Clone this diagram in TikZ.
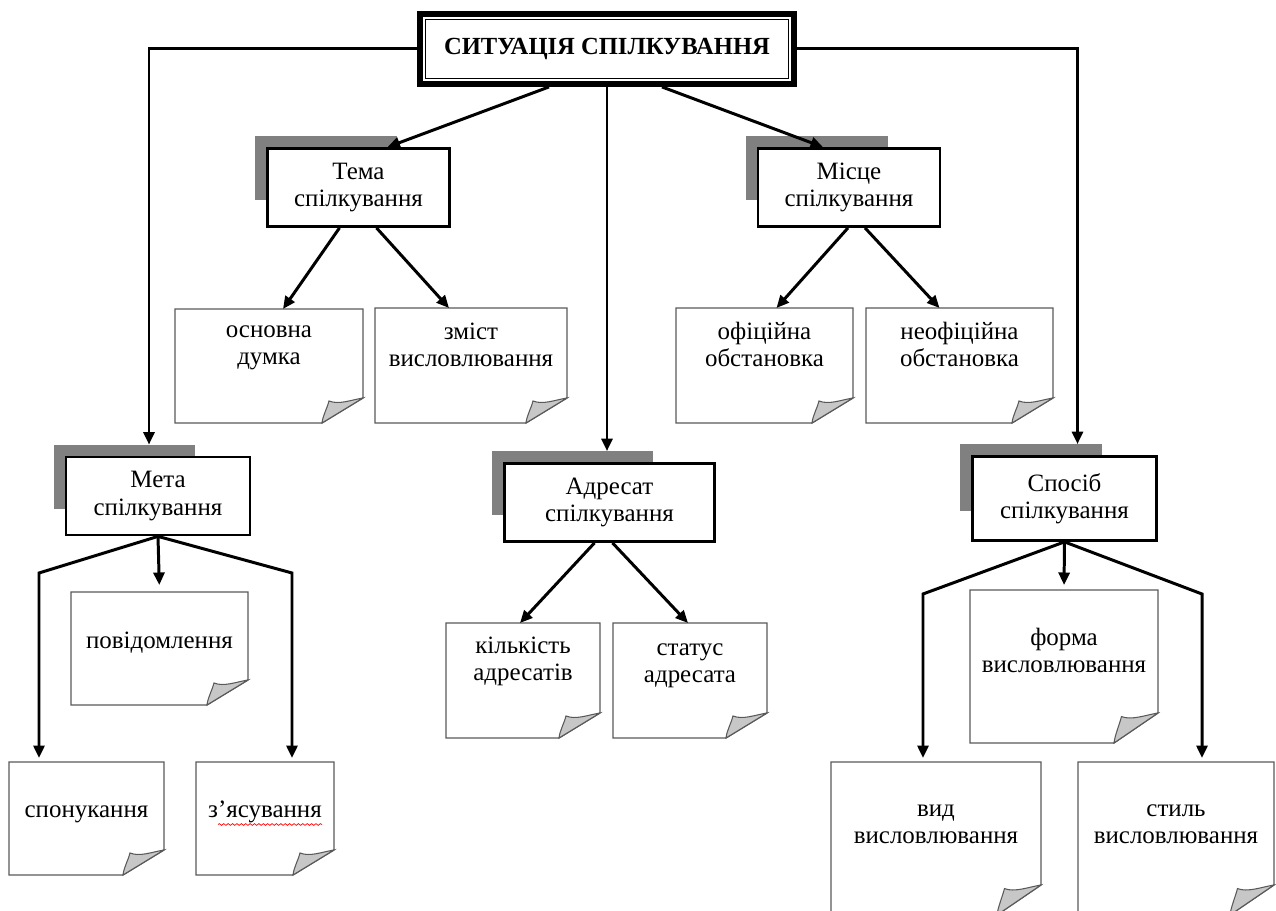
\documentclass[tikz,border=0pt]{standalone}
\usepackage{fontspec}
\setmainfont{Liberation Serif}
\usetikzlibrary{arrows.meta,backgrounds,calc,decorations.pathmorphing}
\newcommand\pushup[1]{\rule[-#1]{0pt}{0pt}}
\tikzset{
	headbox/.style = {draw, line width=2.8pt, fill=white, minimum width=7.5cm, minimum height=1.42cm,
		font=\bfseries\fontsize{14}{16}\selectfont},
	cat/.style = {draw, line width=1.6pt, fill=white, align=center, minimum height=1.56cm,
		font=\fontsize{14.2}{15.5}\selectfont},
	catshadow/.style = {fill=black!50, anchor=north west, minimum height=1.28cm, inner sep=0pt},
	note/.style = {align=center, inner sep=0pt, outer sep=0pt, font=\fontsize{14.2}{15.5}\selectfont,
		execute at begin node=\strut},
	noteline/.style = {draw=black!65, line width=0.8pt},
	flap/.style = {draw=black!65, fill=black!22, line width=0.6pt},
	conn/.style = {line width=1.7pt, -{Triangle[length=0.25cm,width=0.22cm]}}
}

\begin{document}
\begin{tikzpicture}[x=0.02cm, y=-0.02cm]
\useasboundingbox (0,0) rectangle (1276,911);
\clip (0,0) rectangle (1276,911);

% NODES
% main box
\node[headbox] (sit) at (607,49) {СИТУАЦІЯ СПІЛКУВАННЯ};
\draw[double, double distance=1.6pt, line width=0.5pt]
	([shift={(7,7)}]sit.north west) rectangle ([shift={(-7,-7)}]sit.south east);
% categories
\node[cat, minimum width=3.64cm] (tema) at (358.5,187.5) {Тема\\спілкування};
\node[cat, minimum width=3.64cm] (misce) at (849,187.5) {Місце\\спілкування};
\node[cat, minimum width=3.68cm] (meta) at (158,496) {Мета\\спілкування};
\node[cat, minimum width=4.2cm] (adresat) at (609.5,502.5) {Адресат\\спілкування};
\node[cat, minimum width=3.68cm, minimum height=1.68cm] (sposib) at (1064.5,498.5) {Спосіб\\спілкування};
\begin{scope}[on background layer]
\node[catshadow, minimum width=2.84cm] (tema-sh) at ([shift={(-11,-11)}]tema.north west) {};
\node[catshadow, minimum width=2.84cm] (misce-sh) at ([shift={(-11,-11)}]misce.north west) {};
\node[catshadow, minimum width=2.82cm] (meta-sh) at ([shift={(-11,-11)}]meta.north west) {};
\node[catshadow, minimum width=3.22cm] (adresat-sh) at ([shift={(-11,-11)}]adresat.north west) {};
\node[catshadow, minimum width=2.84cm, minimum height=1.34cm] (sposib-sh) at ([shift={(-11,-11)}]sposib.north west) {};
\end{scope}
% notes
\node[note, minimum width=3.76cm, minimum height=2.28cm] (osn) at (269,366) {основна\\думка\pushup{0.84cm}};
\node[note, minimum width=3.84cm, minimum height=2.3cm] (zmist) at (471,365.5) {зміст\\висловлювання\pushup{0.84cm}};
\node[note, minimum width=3.54cm, minimum height=2.3cm] (ofic) at (764.5,365.5) {офіційна\\обстановка\pushup{0.84cm}};
\node[note, minimum width=3.74cm, minimum height=2.3cm] (neofic) at (959.5,365.5) {неофіційна\\обстановка\pushup{0.84cm}};
\node[note, minimum width=3.54cm, minimum height=2.26cm] (povid) at (159.5,648.5) {повідомлення\pushup{0.4cm}};
\node[note, minimum width=3.1cm, minimum height=2.26cm] (spon) at (86.5,818.5) {спонукання\pushup{0.44cm}};
\node[note, minimum width=2.76cm, minimum height=2.26cm] (zyas) at (265,818.5) {з’ясування\pushup{0.44cm}};
\node[note, minimum width=3.08cm, minimum height=2.3cm] (kilk) at (523,680.5) {кількість\\адресатів\pushup{0.86cm}};
\node[note, minimum width=3.08cm, minimum height=2.3cm] (stat) at (690,680.5) {статус\\адресата\pushup{0.7cm}};
\node[note, minimum width=3.76cm, minimum height=3.06cm] (forma) at (1064,666.5) {форма\\висловлювання\pushup{0.66cm}};
\node[note, minimum width=4.2cm, minimum height=3.06cm] (vyd) at (936,838.5) {вид\\висловлювання\pushup{0.58cm}};
\node[note, minimum width=3.92cm, minimum height=3.06cm] (stil) at (1176,838.5) {стиль\\висловлювання\pushup{0.58cm}};
\foreach \n/\fw/\fh in {osn/41/25, zmist/41/25, ofic/41/25, neofic/41/25, povid/41/25, spon/41/25,
	zyas/41/25, kilk/41/25, stat/41/25, forma/44/30, vyd/44/30, stil/44/30} {
	\draw[noteline] (\n.north west) -- (\n.north east) -- ([shift={(0,-\fh)}]\n.south east)
		-- ([shift={(-\fw,0)}]\n.south east) -- (\n.south west) -- cycle;
	\draw[flap] ([shift={(-\fw,0)}]\n.south east) .. controls +(1,-8) and +(-2,8) ..
		([shift={(-0.83*\fw,-0.88*\fh)}]\n.south east) .. controls +(10,4) and +(-12,2) ..
		([shift={(0,-\fh)}]\n.south east) -- cycle;
}
\draw[red, line width=0.4pt, decorate, decoration={snake, amplitude=0.5pt, segment length=2.5pt}]
	([shift={(-47,6)}]zyas.center) -- ([shift={(57,6)}]zyas.center);

% CONNECTIONS
\coordinate (meta-l) at (39,573);
\coordinate (meta-r) at (292,573);
\coordinate (sposib-l) at (923,594);
\coordinate (sposib-r) at (1202,594);
\draw[conn] (sit.west) -| ($(meta.north |- meta-sh.north)+(-9,0)$);
\draw[conn] (sit.east) -| ($(sposib.north |- sposib-sh.north)+(13,0)$);
\draw[conn] (sit.south) -- (sit.south |- adresat-sh.north);
\draw[conn] ([shift={(-58,0)}]sit.south) -- ([shift={(29,0)}]tema.north);
\draw[conn] ([shift={(55,0)}]sit.south) -- ([shift={(-26,0)}]misce.north);
\draw[conn] ([shift={(-19,0)}]tema.south) -- ([shift={(14,0)}]osn.north);
\draw[conn] ([shift={(18,0)}]tema.south) -- ([shift={(-22,0)}]zmist.north);
\draw[conn] ([shift={(-1,0)}]misce.south) -- ([shift={(12,0)}]ofic.north);
\draw[conn] ([shift={(16,0)}]misce.south) -- ([shift={(-20,0)}]neofic.north);
\draw[conn] ([shift={(-15,0)}]adresat.south) -- ([shift={(-3,0)}]kilk.north);
\draw[conn] ([shift={(3,0)}]adresat.south) -- ([shift={(-2,0)}]stat.north);
\draw[conn, shorten >=0.14cm] (meta.south) -- (povid.north);
\draw[conn, shorten >=0.08cm] (meta.south) -- (meta-l) -- (meta-l |- spon.north);
\draw[conn, shorten >=0.08cm] (meta.south) -- (meta-r) -- (meta-r |- zyas.north);
\draw[conn, shorten >=0.1cm] (sposib.south) -- (forma.north);
\draw[conn, shorten >=0.08cm] (sposib.south) -- (sposib-l) -- (sposib-l |- vyd.north);
\draw[conn, shorten >=0.08cm] (sposib.south) -- (sposib-r) -- (sposib-r |- stil.north);

\end{tikzpicture}
\end{document}
